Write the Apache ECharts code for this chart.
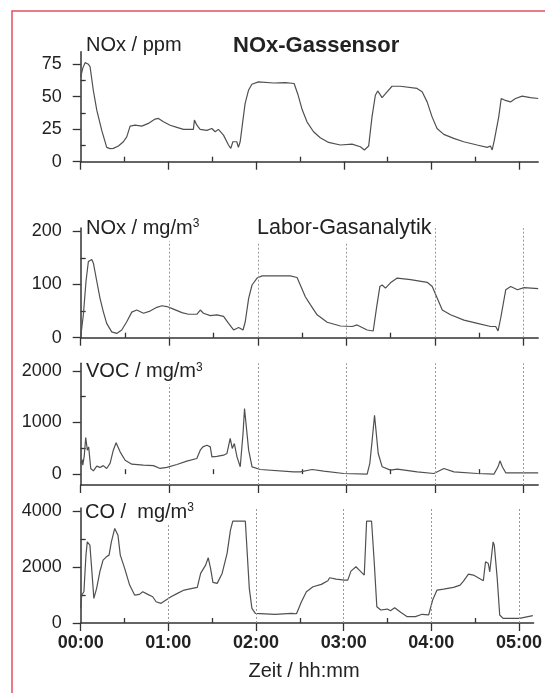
<!DOCTYPE html>
<html>
<head>
<meta charset="utf-8">
<title>NOx-Gassensor</title>
<script src="https://cdn.jsdelivr.net/npm/echarts@6/dist/echarts.min.js"></script>
<style>
  html, body { margin: 0; padding: 0; background: #fff; }
  #main { width: 545px; height: 693px; }
</style>
</head>
<body>
<div id="main"></div>
<script>
// time in minutes from 00:00
const hours = [0, 60, 120, 180, 240, 300];
const halfHours = [30, 90, 150, 210, 270];
const hourLabels = ['00:00', '01:00', '02:00', '03:00', '04:00', '05:00'];
const gridLines = [60, 120, 180, 240, 300];

// NOx-Gassensor, ppm
const noxPpmT = [0, 1.5, 3, 5, 6.4, 8.6, 11, 14.4, 17.8, 20, 22.3, 25.8, 29.2, 31.5, 33.8, 37.2, 41.8, 46.3, 50.9, 53.2,
  56.6, 61.2, 65.8, 70.3, 77.1, 77.8, 79.5, 81.7, 86.3, 89.7, 92, 94.2, 97.7, 101.1, 102.7, 104.1, 106.8, 107.9, 109.1, 111,
  112.5, 114.8, 117.1, 121.6, 131.9, 140, 146, 148.5, 151.5, 154.8, 159.3, 163.9, 169.6, 177.6, 185.6, 191.3, 194.1, 197, 199.3, 201.6,
  203.2, 206.2, 209.6, 213, 218.7, 230.1, 233.6, 237, 240.4, 243.8, 248.4, 255.2, 262, 271.2, 278.1, 280.3, 281.5, 283, 286, 287.7,
  290.6, 294, 297.5, 302, 307.7, 313];
const noxPpm = [65, 72, 76, 75, 73, 55, 39.5, 24, 11, 10, 10.2, 12, 15.3, 19, 27.3, 28, 27.3, 29.4, 32.7, 33.2,
  30.6, 28, 26.3, 24.8, 24.8, 31.9, 28, 24.8, 24, 25.5, 23, 24.8, 20.4, 12.8, 10.2, 15.3, 15.3, 11, 15.3, 31.9,
  44.7, 54.8, 59.4, 61.2, 60.4, 60.6, 60, 52, 40, 30.6, 23, 18.4, 14.8, 12.8, 13.5, 11.5, 9, 12, 34.4, 51,
  54.3, 49.2, 53.6, 57.9, 57.9, 56.2, 53.6, 45.9, 34.4, 25.5, 21, 17.9, 15.3, 12.8, 11, 12, 9, 16.6, 34.4, 48.5,
  47, 45.9, 48.5, 50.3, 49.2, 48.5];

// Labor-Gasanalytik, NOx mg/m3
const noxMgT = [0, 1.8, 3.6, 5.2, 7.5, 8.6, 10.9, 13.1, 15.3, 17.6, 21, 24.4, 27.8, 31.2, 34.6, 38, 42.5, 47, 51.6, 55,
  58.4, 62.9, 68.6, 73, 78.7, 81, 83.2, 87.8, 92.3, 96.8, 100.2, 103.6, 107, 110, 111.5, 113.8, 116.1, 119.5, 122.9, 135.3,
  142, 146.6, 148.8, 152.2, 155.6, 160.2, 167, 176, 184, 187.3, 194.1, 198.2, 200.4, 202.7, 204.3, 206.5, 209.9, 214.5, 223.5, 234.8,
  238.2, 241.6, 245, 250.6, 259.7, 268.8, 277.8, 281.2, 282.8, 284.6, 288, 291.4, 295.9, 300.4, 310];
const noxMg = [2, 43, 106, 143, 147, 140, 106, 74, 49, 27, 11, 8, 14.5, 30, 48, 52, 46, 50, 57, 60,
  58.5, 53.6, 47, 44, 44, 52, 46, 41.5, 43, 40, 27, 14.5, 19, 14.5, 30, 74, 99, 112, 116, 116,
  116, 113, 99, 77, 62, 43, 29, 22, 21, 24, 14.5, 12.6, 55, 96, 99, 93, 103, 112, 109, 104,
  96, 74, 52, 43, 33, 27, 21, 21, 12.6, 37, 90, 96, 90, 94, 92];

// VOC mg/m3
const vocT = [0, 1, 1.4, 2.4, 3.4, 4.5, 5.4, 6.8, 8.6, 10.9, 13.1, 15.3, 17.6, 19.9, 22.1, 24, 26.7, 30.1, 34.6, 42.5,
  49.3, 53.8, 58.4, 65.2, 71.9, 78.7, 81, 82.8, 85.5, 87.8, 88.9, 92.3, 96.8, 99.1, 101.3, 102.7, 104.1, 105.9, 108.1, 110,
  111, 112.2, 113.8, 116.1, 121.7, 144.3, 148.8, 156.8, 164.7, 178.2, 194.1, 195.9, 197.5, 199.1, 200.4, 201.6, 204.3, 209.9, 214.5, 228,
  239.3, 246.1, 252.9, 268.8, 280, 282.8, 284.1, 285.7, 288, 300.4, 310];
const voc = [207, 280, 174, 350, 710, 464, 528, 110, 64, 155, 130, 165, 110, 207, 464, 606, 432, 270, 193, 174,
  165, 110, 130, 187, 251, 303, 464, 528, 560, 528, 335, 345, 367, 400, 690, 497, 593, 335, 142, 787,
  1270, 1240, 464, 142, 90, 45, 45, 90, 58, 13, 0, 207, 658, 1141, 1110, 400, 142, 77, 97, 45,
  13, 110, 45, 13, 0, 142, 258, 142, 26, 26, 26];

// CO mg/m3
const coT = [0, 0.7, 2.2, 3.6, 4.5, 6.3, 7.5, 9, 10.9, 13.1, 15.3, 17.6, 19.4, 21, 23.3, 24.4, 25.5, 27.1, 30.1, 33.5,
  36.9, 40.2, 42.5, 45.9, 49.3, 51.6, 55, 58.4, 61.8, 66.2, 70.8, 76.4, 79.8, 82.1, 85.5, 87.3, 88.9, 90.5, 93.4, 96.8,
  100.2, 102.5, 103.2, 104.1, 112.7, 113.8, 115.4, 117.2, 119.5, 133, 144.3, 147.7, 151.1, 154.5, 159, 164.7, 169.2, 170.4, 174.8, 180.5,
  182.8, 185, 188.4, 190.7, 194.1, 195.7, 199.1, 200.9, 202.7, 205.4, 206.6, 209.9, 212, 214.9, 219, 223.5, 229.1, 233.7, 238.2, 240.9,
  243.9, 248.4, 255.2, 259.7, 262, 265.4, 268.8, 275.6, 277.1, 279, 280, 282.3, 283.1, 285.1, 286.8, 289.1, 300.4, 309.5];
const co = [523, 997, 1114, 2420, 2894, 2777, 1947, 879, 1235, 1826, 2242, 2360, 2420, 2894, 3371, 3406, 3132, 2420, 1947, 1352,
  997, 1020, 1114, 1020, 937, 759, 700, 819, 937, 1057, 1174, 1235, 1270, 1768, 2064, 2324, 1947, 1448, 1413, 1768,
  2481, 3310, 3371, 3630, 3630, 2658, 1235, 523, 345, 310, 345, 330, 759, 1114, 1292, 1377, 1506, 1612, 1566, 1530,
  1530, 1851, 2004, 1886, 1708, 3630, 3630, 2182, 580, 463, 420, 498, 440, 545, 380, 225, 225, 310, 290, 819,
  1174, 1210, 1270, 1352, 1495, 1745, 1708, 1506, 2182, 2122, 1826, 2894, 2777, 1590, 285, 167, 167, 260];

const yMajor = [[0, 25, 50, 75], [0, 100, 200], [0, 1000, 2000], [0, 2000, 4000]];
const yMinor = [[12.5, 37.5, 62.5], [50, 150], [500, 1500], [1000, 3000]];

const FONT = 'Liberation Sans, Arial, Helvetica, sans-serif';
const INK = '#222';
const pts = (t, v) => t.map((x, i) => [x, v[i]]);

const panels = [
  { top: 51.7, height: 110, ymin: 0, ymax: 84.4, xmax: 313, data: pts(noxPpmT, noxPpm), dashed: false },
  { top: 228, height: 109.7, ymin: 0, ymax: 206, xmax: 310, data: pts(noxMgT, noxMg), dashed: true },
  { top: 363.3, height: 121.7, ymin: -210, ymax: 2145, xmax: 310, data: pts(vocT, voc), dashed: true },
  { top: 508, height: 115, ymin: 0, ymax: 4100, xmax: 310, data: pts(coT, co), dashed: true }
];

const grid = [], xAxis = [], yAxis = [], series = [];
panels.forEach((p, i) => {
  grid.push({ left: 80.7, width: 457.5, top: p.top, height: p.height });
  const last = i === panels.length - 1;
  // main x axis: hour ticks
  xAxis.push({
    type: 'value', gridIndex: i, min: 0, max: p.xmax,
    axisLine: { onZero: false, lineStyle: { color: '#333', width: 1.5 } },
    axisTick: { show: true, inside: false, length: 8, customValues: hours, lineStyle: { color: '#333', width: 1.3 } },
    axisLabel: {
      show: last, customValues: hours, margin: 11,
      fontFamily: FONT, fontSize: 18, fontWeight: 'bold', color: INK,
      formatter: v => hourLabels[Math.round(v / 60)]
    },
    splitLine: { show: false }
  });
  // minor x ticks: half hours
  xAxis.push({
    type: 'value', gridIndex: i, min: 0, max: p.xmax,
    axisLine: { show: false },
    axisTick: { show: true, length: 5, customValues: halfHours, lineStyle: { color: '#333', width: 1.3 } },
    axisLabel: { show: false },
    splitLine: { show: false }
  });
  yAxis.push({
    type: 'value', gridIndex: i, min: p.ymin, max: p.ymax,
    axisLine: { show: true, onZero: false, lineStyle: { color: '#333', width: 1.5 } },
    axisTick: { show: true, length: 8, customValues: yMajor[i], lineStyle: { color: '#333', width: 1.3 } },
    axisLabel: {
      customValues: yMajor[i], margin: 19, fontFamily: FONT, fontSize: 18, color: INK,
      formatter: v => String(v)
    },
    splitLine: { show: false }
  });
  yAxis.push({
    type: 'value', gridIndex: i, min: p.ymin, max: p.ymax,
    axisLine: { show: false },
    axisTick: { show: true, length: 5, customValues: yMinor[i], lineStyle: { color: '#333', width: 1.3 } },
    axisLabel: { show: false },
    splitLine: { show: false }
  });
  const s = {
    type: 'line', xAxisIndex: 2 * i, yAxisIndex: 2 * i,
    data: p.data, showSymbol: false, symbol: 'none',
    lineStyle: { color: '#505050', width: 1.2 },
    z: 3
  };
  if (p.dashed) {
    s.markLine = {
      silent: true, symbol: 'none', animation: false,
      label: { show: false },
      lineStyle: { color: '#999', type: [2, 2], width: 1 },
      data: gridLines.map(v => ({ xAxis: v }))
    };
  }
  series.push(s);
});

// text labels sitting on white so the dotted lines stop below them
function label(text, x, y, size, weight, bg) {
  return {
    type: 'text', z: 100, x: x, y: y,
    style: {
      text: text, fill: INK,
      fontFamily: FONT, fontSize: size, fontWeight: weight || 'normal',
      align: 'left', textAlign: 'left', verticalAlign: 'middle', textVerticalAlign: 'middle',
      backgroundColor: bg ? '#fff' : null, padding: bg ? [1, 2, 3, 1] : 0,
      rich: { sup: { fontSize: 12, fontFamily: FONT, fill: INK, verticalAlign: 'top', padding: [0, 0, 8, 0] } }
    }
  };
}

const chart = echarts.init(document.getElementById('main'), null, { renderer: 'canvas' });
chart.setOption({
  animation: false,
  backgroundColor: '#fff',
  grid: grid,
  xAxis: xAxis,
  yAxis: yAxis,
  series: series,
  graphic: [
    {
      type: 'rect', z: 100,
      shape: { x: 12, y: 11, width: 560, height: 720 },
      style: { fill: 'none', stroke: '#e2505e', lineWidth: 1.5 }
    },
    label('NOx / ppm', 86, 45, 20),
    label('NOx-Gassensor', 233, 46, 22, 'bold'),
    label('NOx / mg/m{sup|3}', 85, 229, 20, null, true),
    label('Labor-Gasanalytik', 256, 229, 21.5, null, true),
    label('VOC / mg/m{sup|3}', 85, 372.5, 20, null, true),
    label('CO /  mg/m{sup|3}', 84, 513, 20, null, true),
    {
      type: 'text', z: 100, x: 304, y: 671,
      style: {
        text: 'Zeit / hh:mm', fill: INK, fontFamily: FONT, fontSize: 20,
        align: 'center', textAlign: 'center', verticalAlign: 'middle', textVerticalAlign: 'middle'
      }
    }
  ]
});
</script>
</body>
</html>
